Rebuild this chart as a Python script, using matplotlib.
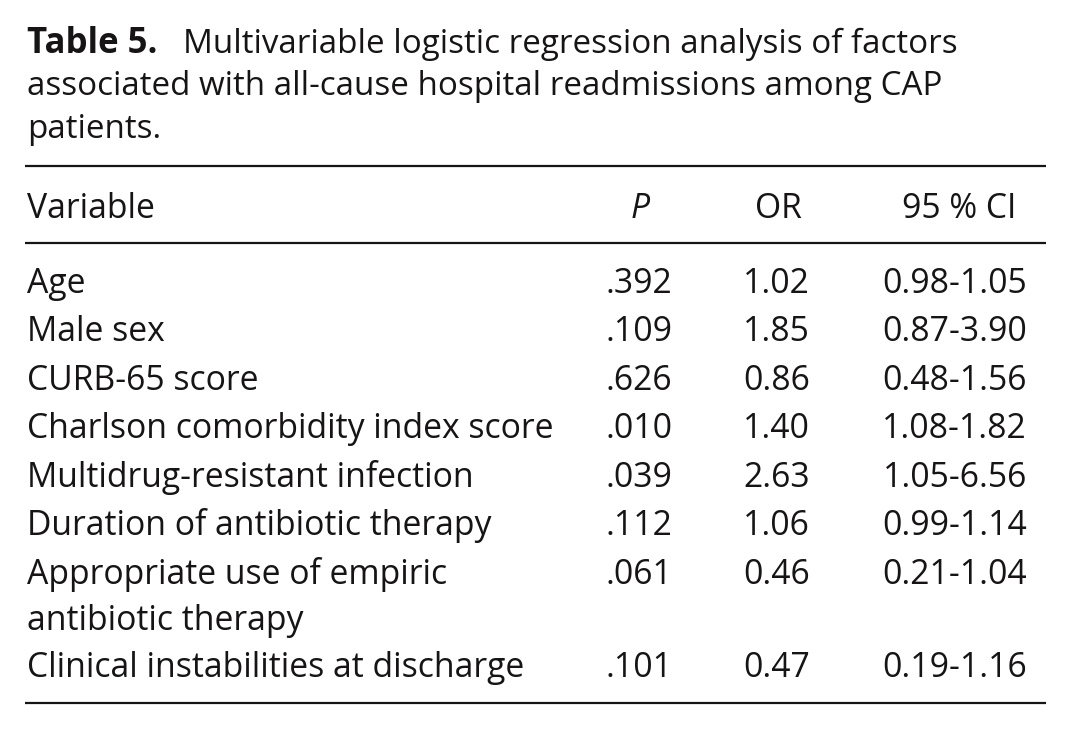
import matplotlib
matplotlib.use("Agg")
import matplotlib.pyplot as plt

# ---- data ----
title_bold = "Table 5."
title_lines = [
    "Multivariable logistic regression analysis of factors",
    "associated with all-cause hospital readmissions among CAP",
    "patients.",
]
headers = ["Variable", "P", "OR", "95 % CI"]
variables = [
    "Age",
    "Male sex",
    "CURB-65 score",
    "Charlson comorbidity index score",
    "Multidrug-resistant infection",
    "Duration of antibiotic therapy",
    "Appropriate use of empiric\nantibiotic therapy",
    "Clinical instabilities at discharge",
]
p_values = [".392", ".109", ".626", ".010", ".039", ".112", ".061", ".101"]
odds_ratios = ["1.02", "1.85", "0.86", "1.40", "2.63", "1.06", "0.46", "0.47"]
conf_int = ["0.98-1.05", "0.87-3.90", "0.48-1.56", "1.08-1.82",
            "1.05-6.56", "0.99-1.14", "0.21-1.04", "0.19-1.16"]

# ---- layout ----
W, H = 1072, 730
fig = plt.figure(figsize=(W / 100, H / 100), dpi=100)
ax = fig.add_axes([0, 0, 1, 1])
ax.set_xlim(0, W)
ax.set_ylim(H, 0)
ax.axis("off")

FONT = ["Open Sans", "DejaVu Sans"]
COL = "#161414"
TS = 21.0   # title size
BS = 20.0   # body size

renderer = fig.canvas.get_renderer()

def txt(x, y, s, size, **kw):
    return ax.text(x, y, s, fontsize=size, family=FONT, color=COL,
                   va="baseline", **kw)

def width_px(t):
    return t.get_window_extent(renderer=renderer).width

# fit sizes to reference text widths
probe = txt(0, -100, variables[3], BS, ha="left")
BS = BS * 526.0 / width_px(probe)
probe.remove()
probe = txt(0, -100, title_lines[1], TS, ha="left")
TS = TS * (940.0 - 27.0) / width_px(probe)
probe.remove()

# title
txt(27, 53, title_bold, TS * 1.05, fontweight="bold", ha="left")
txt(183, 53, title_lines[0], TS, ha="left")
txt(27, 95, title_lines[1], TS, ha="left")
txt(27, 138, title_lines[2], TS, ha="left")

# rules
for y in (166, 243, 703):
    ax.plot([25, 1046], [y, y], color=COL, lw=1.6, solid_capstyle="butt")

# headers
hy = 218
txt(27, hy, headers[0], BS, ha="left")
txt(640, hy, headers[1], BS, ha="center", style="italic")
txt(778, hy, headers[2], BS, ha="center")
txt(1016, hy, headers[3], BS, ha="right")

# rows
row_y = [293, 341, 390, 438, 487, 535, 584, 677]
for i, y in enumerate(row_y):
    lines = variables[i].split("\n")
    for j, ln in enumerate(lines):
        txt(27, y + j * 46, ln, BS, ha="left")
    txt(606, y, p_values[i], BS, ha="left")
    txt(810, y, odds_ratios[i], BS, ha="right")
    txt(1027, y, conf_int[i], BS, ha="right")

fig.savefig("out.png", dpi=100, facecolor="white")
